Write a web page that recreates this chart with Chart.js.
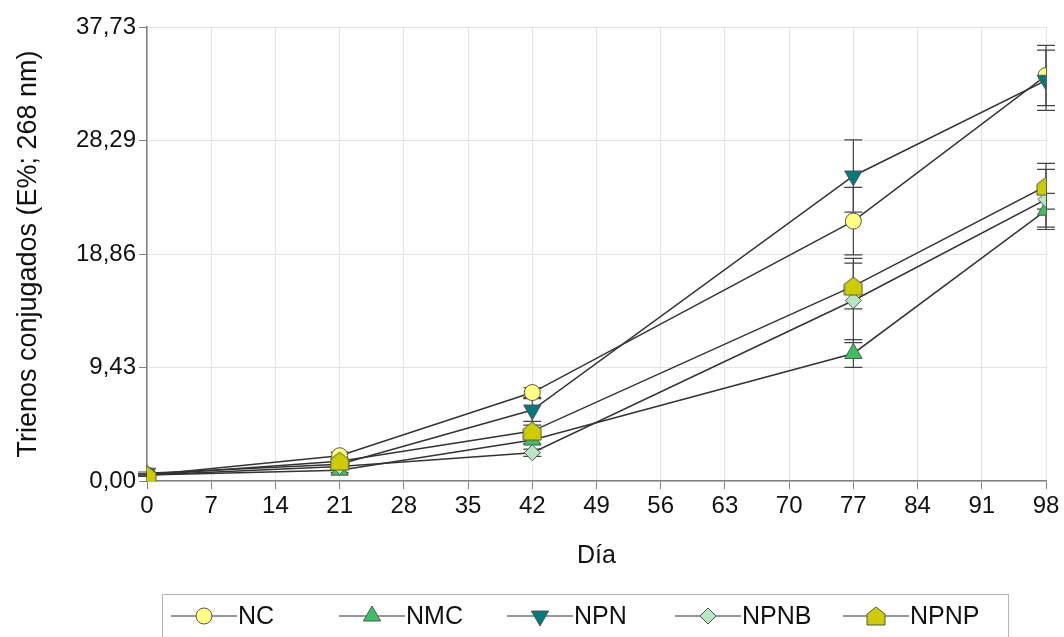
<!DOCTYPE html>
<html>
<head>
<meta charset="utf-8">
<script src="https://cdn.jsdelivr.net/npm/chart.js@4.4.1/dist/chart.umd.min.js"></script>
<style>
  body { margin: 0; background: #fff; }
  #wrap { width: 1064px; height: 637px; }
</style>
</head>
<body>
<div id="wrap"><canvas id="chart"></canvas></div>
<script>
// days sampled
const days = [0, 21, 42, 77, 98];
const yTicks = [0, 9.43, 18.86, 28.29, 37.73];

// series values (E%, 268 nm) and their error bars
const nc = [0.5, 2.1, 7.35, 21.6, 33.7];
const ncErr = [0.1, 0.3, 0.4, 2.8, 2.5];
const nmc = [0.5, 0.9, 3.4, 10.6, 22.5];
const nmcErr = [0.1, 0.2, 0.3, 1.15, 1.4];
const npn = [0.65, 1.4, 5.9, 25.35, 33.3];
const npnErr = [0.1, 0.2, 0.95, 3.0, 2.5];
const npnb = [0.5, 1.2, 2.35, 15.0, 23.4];
const npnbErr = [0.1, 0.2, 0.3, 3.5, 2.5];
const npnp = [0.5, 1.65, 4.15, 16.2, 24.5];
const npnpErr = [0.1, 0.2, 0.5, 1.9, 1.9];

const FONT = "'Liberation Sans', Arial, sans-serif";

// pentagon ("house") marker for NPNP
function makePentagon(fill) {
    const c = document.createElement('canvas');
    c.width = 20; c.height = 20;
    const g = c.getContext('2d');
    g.beginPath();
    g.moveTo(10, 1);
    g.lineTo(19, 8);
    g.lineTo(19, 19);
    g.lineTo(1, 19);
    g.lineTo(1, 8);
    g.closePath();
    g.fillStyle = fill;
    g.fill();
    g.strokeStyle = '#555';
    g.lineWidth = 1;
    g.stroke();
    return c;
}

const pairs = (vals) => vals.map((v, i) => ({ x: days[i], y: v }));

const series = [
    { label: 'NC', data: nc, err: ncErr, color: '#ffff80', style: 'circle', radius: 8, rot: 0, order: 4 },
    { label: 'NMC', data: nmc, err: nmcErr, color: '#3cc060', style: 'triangle', radius: 10, rot: 0, order: 3 },
    { label: 'NPN', data: npn, err: npnErr, color: '#007b7b', style: 'triangle', radius: 10, rot: 180, order: 2 },
    { label: 'NPNB', data: npnb, err: npnbErr, color: '#b8e6c2', style: 'rectRot', radius: 8, rot: 0, order: 1 },
    { label: 'NPNP', data: npnp, err: npnpErr, color: '#cccc00', style: makePentagon('#cccc00'), radius: 9, rot: 0, order: 0 },
];

const datasets = series.map(s => ({
    label: s.label,
    data: pairs(s.data),
    errors: s.err,
    borderColor: '#333',
    borderWidth: 1.5,
    pointStyle: s.style,
    pointRotation: s.rot,
    pointRadius: s.radius,
    pointHoverRadius: s.radius,
    pointBackgroundColor: s.color,
    pointBorderColor: '#555',
    pointBorderWidth: 1,
    order: s.order,
    tension: 0,
}));

// vertical error bars, drawn under the markers
const errorBars = {
    id: 'errorBars',
    beforeDatasetsDraw(chart) {
        const { ctx, scales: { x, y } } = chart;
        ctx.save();
        ctx.strokeStyle = '#444';
        ctx.lineWidth = 1.2;
        chart.data.datasets.forEach(ds => {
            ds.data.forEach((p, i) => {
                const e = ds.errors[i];
                const px = x.getPixelForValue(p.x);
                const top = y.getPixelForValue(p.y + e);
                const bot = y.getPixelForValue(p.y - e);
                ctx.beginPath();
                ctx.moveTo(px, top); ctx.lineTo(px, bot);
                ctx.moveTo(px - 9, top); ctx.lineTo(px + 9, top);
                ctx.moveTo(px - 9, bot); ctx.lineTo(px + 9, bot);
                ctx.stroke();
            });
        });
        ctx.restore();
    }
};

// boxed legend with the line running through each marker
const boxLegend = {
    id: 'boxLegend',
    afterDraw(chart) {
        const ctx = chart.ctx;
        ctx.save();
        ctx.strokeStyle = '#b4b4b4';
        ctx.lineWidth = 1;
        ctx.strokeRect(162.5, 594.5, 846, 44);
        const cy = 616;
        series.forEach((s, i) => {
            const x0 = 171 + i * 168;
            ctx.strokeStyle = '#333';
            ctx.lineWidth = 1.2;
            ctx.beginPath();
            ctx.moveTo(x0, cy); ctx.lineTo(x0 + 66, cy);
            ctx.stroke();
            ctx.fillStyle = s.color;
            ctx.strokeStyle = '#555';
            ctx.lineWidth = 1;
            Chart.helpers.drawPoint(ctx, { pointStyle: s.style, rotation: s.rot, radius: s.radius, borderWidth: 1 }, x0 + 33, cy);
            ctx.fillStyle = '#111';
            ctx.font = '25px ' + FONT;
            ctx.textBaseline = 'middle';
            ctx.textAlign = 'left';
            ctx.fillText(s.label, x0 + 67, cy + 1);
        });
        ctx.restore();
    }
};

new Chart(document.getElementById('chart'), {
    type: 'line',
    data: { datasets },
    options: {
        responsive: true,
        maintainAspectRatio: false,
        animation: false,
        layout: { padding: { left: 0, right: 18, top: 27, bottom: 56 } },
        plugins: {
            legend: { display: false },
            tooltip: { enabled: false },
        },
        scales: {
            x: {
                type: 'linear',
                min: 0,
                max: 98,
                ticks: { stepSize: 7, color: '#111', font: { family: FONT, size: 24 }, padding: 3, maxRotation: 0 },
                grid: { color: '#e4e4e4', tickColor: '#808080', tickLength: 8 },
                border: { color: '#808080', width: 1.5 },
                title: { display: true, text: 'Día', color: '#111', font: { family: FONT, size: 25 }, padding: { top: 0, bottom: 10 } },
                afterFit(scale) { scale.height = 100; },
            },
            y: {
                min: 0,
                max: 37.73,
                afterBuildTicks(scale) { scale.ticks = yTicks.map(v => ({ value: v })); },
                ticks: {
                    color: '#111',
                    font: { family: FONT, size: 24 },
                    padding: 3,
                    callback: v => v.toFixed(2).replace('.', ','),
                },
                grid: { color: '#e4e4e4', tickColor: '#808080', tickLength: 8 },
                border: { color: '#808080', width: 1.5 },
                title: { display: true, text: 'Trienos conjugados (E%; 268 nm)', color: '#111', font: { family: FONT, size: 27 }, padding: { top: 12, bottom: 0 } },
                afterFit(scale) { scale.width = 147; },
            },
        },
    },
    plugins: [errorBars, boxLegend],
});
</script>
</body>
</html>
